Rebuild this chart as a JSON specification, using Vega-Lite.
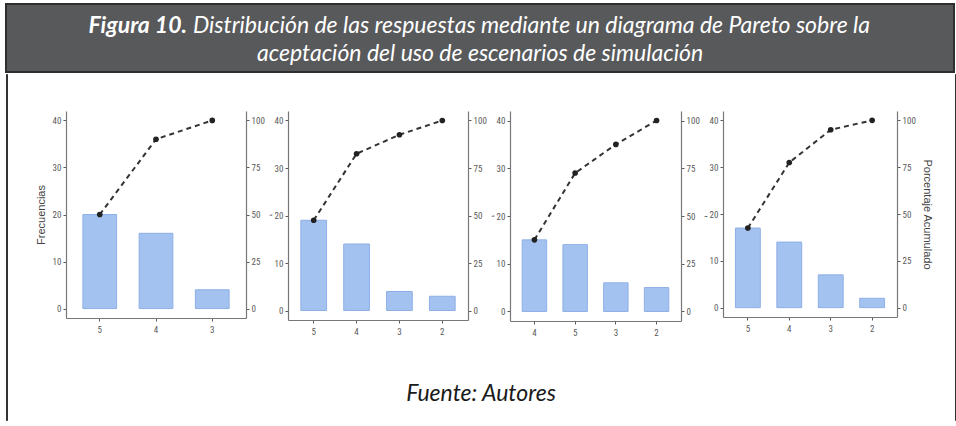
{
  "$schema": "https://vega.github.io/schema/vega-lite/v6.json",
  "background": "white",
  "padding": {"left": 5, "top": 3, "right": 0, "bottom": 0},
  "spacing": 0,
  "config": {
    "view": {"stroke": null},
    "axis": {
      "grid": false,
      "labelFont": "Liberation Sans Narrow, Roboto Condensed, DejaVu Sans Condensed, Roboto",
      "labelFontSize": 9,
      "labelColor": "#5a5a5a",
      "tickColor": "#5a5a5a",
      "tickSize": 3,
      "labelPadding": 2,
      "domainColor": "#777777",
      "domainWidth": 1.2,
      "titleFont": "Liberation Sans",
      "titleFontSize": 11,
      "titleFontWeight": "normal",
      "titleColor": "#444444"
    }
  },
  "datasets": {
    "p1": [
      {"resp": "5", "freq": 20, "cum": 50},
      {"resp": "4", "freq": 16, "cum": 90},
      {"resp": "3", "freq": 4, "cum": 100}
    ],
    "p2": [
      {"resp": "5", "freq": 19, "cum": 47.5},
      {"resp": "4", "freq": 14, "cum": 82.5},
      {"resp": "3", "freq": 4, "cum": 92.5},
      {"resp": "2", "freq": 3, "cum": 100}
    ],
    "p3": [
      {"resp": "4", "freq": 15, "cum": 37.5},
      {"resp": "5", "freq": 14, "cum": 72.5},
      {"resp": "3", "freq": 6, "cum": 87.5},
      {"resp": "2", "freq": 5, "cum": 100}
    ],
    "p4": [
      {"resp": "5", "freq": 17, "cum": 42.5},
      {"resp": "4", "freq": 14, "cum": 77.5},
      {"resp": "3", "freq": 7, "cum": 95},
      {"resp": "2", "freq": 2, "cum": 100}
    ]
  },
  "vconcat": [
    {
      "width": 948,
      "height": 68,
      "view": {"fill": "#58595b", "stroke": "#2f2f2f", "strokeWidth": 2},
      "encoding": {
        "y": {"field": "line", "type": "ordinal", "scale": {"type": "point", "domain": [1, 2], "padding": 0.69, "align": 0.725}, "axis": null},
        "text": {"field": "t"}
      },
      "layer": [
        {
          "data": {"values": [{"line": 1, "t": "Figura 10."}]},
          "mark": {"type": "text", "font": "Lato", "fontSize": 23, "fontStyle": "italic", "fontWeight": "bold", "color": "white", "align": "right", "baseline": "alphabetic", "dx": -293}
        },
        {
          "data": {"values": [{"line": 1, "t": "Distribución de las respuestas mediante un diagrama de Pareto sobre la"}]},
          "mark": {"type": "text", "font": "Lato", "fontSize": 23, "fontStyle": "italic", "fontWeight": "normal", "color": "white", "align": "left", "baseline": "alphabetic", "dx": -287}
        },
        {
          "data": {"values": [{"line": 2, "t": "aceptación del uso de escenarios de simulación"}]},
          "mark": {"type": "text", "font": "Lato", "fontSize": 23, "fontStyle": "italic", "fontWeight": "normal", "color": "white", "align": "center", "baseline": "alphabetic"}
        }
      ]
    },
    {
      "spacing": 0,
      "hconcat": [
        {
          "width": 1,
          "height": 346,
          "view": {"fill": "#333333", "stroke": "#333333", "strokeWidth": 1},
          "data": {"values": [{}]},
          "mark": {"type": "text"},
          "encoding": {}
        },
        {
          "spacing": 0,
          "vconcat": [
            {
              "width": 946,
              "height": 36,
              "data": {"values": [{}]},
              "mark": {"type": "text"},
              "encoding": {}
            },
            {
              "spacing": 0,
              "hconcat": [
                {
                  "width": 27,
                  "height": 10,
                  "data": {"values": [{}]},
                  "mark": {"type": "text"},
                  "encoding": {}
                },
                {
                  "hconcat": [
                    {
                      "width": 180,
                      "height": 207,
                      "data": {"name": "p1"},
                      "encoding": {"x": {"field": "resp", "type": "nominal", "sort": null, "scale": {"paddingInner": 0.4, "paddingOuter": 0.3}, "axis": {"title": null, "labelAngle": 0, "labelPadding": 4}}},
                      "layer": [
                        {
                          "mark": {"type": "bar", "color": "#a4c2f0", "stroke": "#8eafe6", "strokeWidth": 1},
                          "encoding": {"y": {"field": "freq", "type": "quantitative", "scale": {"domain": [-2, 42], "nice": false, "zero": false}, "axis": {"orient": "left", "values": [0, 10, 20, 30, 40], "title": "Frecuencias", "titlePadding": 6}}}
                        },
                        {
                          "encoding": {
                            "y": {"field": "cum", "type": "quantitative", "scale": {"domain": [-5, 105], "nice": false, "zero": false}, "axis": {"orient": "right", "values": [0, 25, 50, 75, 100], "title": ",", "titlePadding": 4}},
                            "order": {"field": "cum", "type": "quantitative"}
                          },
                          "layer": [
                            {"mark": {"type": "line", "color": "#333333", "strokeDash": [5, 4], "strokeWidth": 2}},
                            {"mark": {"type": "point", "filled": true, "color": "#222222", "size": 32, "opacity": 1}}
                          ]
                        }
                      ],
                      "resolve": {"scale": {"y": "independent"}}
                    },
                    {
                      "width": 180,
                      "height": 209,
                      "data": {"name": "p2"},
                      "encoding": {"x": {"field": "resp", "type": "nominal", "sort": null, "scale": {"paddingInner": 0.4, "paddingOuter": 0.3}, "axis": {"title": null, "labelAngle": 0, "labelPadding": 4}}},
                      "layer": [
                        {
                          "mark": {"type": "bar", "color": "#a4c2f0", "stroke": "#8eafe6", "strokeWidth": 1},
                          "encoding": {"y": {"field": "freq", "type": "quantitative", "scale": {"domain": [-2, 42], "nice": false, "zero": false}, "axis": {"orient": "left", "values": [0, 10, 20, 30, 40], "title": null}}}
                        },
                        {
                          "encoding": {
                            "y": {"field": "cum", "type": "quantitative", "scale": {"domain": [-5, 105], "nice": false, "zero": false}, "axis": {"orient": "right", "values": [0, 25, 50, 75, 100], "title": ",", "titlePadding": 4}},
                            "order": {"field": "cum", "type": "quantitative"}
                          },
                          "layer": [
                            {"mark": {"type": "line", "color": "#333333", "strokeDash": [5, 4], "strokeWidth": 2}},
                            {"mark": {"type": "point", "filled": true, "color": "#222222", "size": 32, "opacity": 1}}
                          ]
                        }
                      ],
                      "resolve": {"scale": {"y": "independent"}}
                    },
                    {
                      "width": 171,
                      "height": 210,
                      "data": {"name": "p3"},
                      "encoding": {"x": {"field": "resp", "type": "nominal", "sort": null, "scale": {"paddingInner": 0.4, "paddingOuter": 0.3}, "axis": {"title": null, "labelAngle": 0, "labelPadding": 4}}},
                      "layer": [
                        {
                          "mark": {"type": "bar", "color": "#a4c2f0", "stroke": "#8eafe6", "strokeWidth": 1},
                          "encoding": {"y": {"field": "freq", "type": "quantitative", "scale": {"domain": [-2, 42], "nice": false, "zero": false}, "axis": {"orient": "left", "values": [0, 10, 20, 30, 40], "title": null}}}
                        },
                        {
                          "encoding": {
                            "y": {"field": "cum", "type": "quantitative", "scale": {"domain": [-5, 105], "nice": false, "zero": false}, "axis": {"orient": "right", "values": [0, 25, 50, 75, 100], "title": ",", "titlePadding": 4}},
                            "order": {"field": "cum", "type": "quantitative"}
                          },
                          "layer": [
                            {"mark": {"type": "line", "color": "#333333", "strokeDash": [5, 4], "strokeWidth": 2}},
                            {"mark": {"type": "point", "filled": true, "color": "#222222", "size": 32, "opacity": 1}}
                          ]
                        }
                      ],
                      "resolve": {"scale": {"y": "independent"}}
                    },
                    {
                      "width": 174,
                      "height": 206,
                      "data": {"name": "p4"},
                      "encoding": {"x": {"field": "resp", "type": "nominal", "sort": null, "scale": {"paddingInner": 0.4, "paddingOuter": 0.3}, "axis": {"title": null, "labelAngle": 0, "labelPadding": 4}}},
                      "layer": [
                        {
                          "mark": {"type": "bar", "color": "#a4c2f0", "stroke": "#8eafe6", "strokeWidth": 1},
                          "encoding": {"y": {"field": "freq", "type": "quantitative", "scale": {"domain": [-2, 42], "nice": false, "zero": false}, "axis": {"orient": "left", "values": [0, 10, 20, 30, 40], "title": null}}}
                        },
                        {
                          "encoding": {
                            "y": {"field": "cum", "type": "quantitative", "scale": {"domain": [-5, 105], "nice": false, "zero": false}, "axis": {"orient": "right", "values": [0, 25, 50, 75, 100], "title": "Porcentaje Acumulado", "titlePadding": 6}},
                            "order": {"field": "cum", "type": "quantitative"}
                          },
                          "layer": [
                            {"mark": {"type": "line", "color": "#333333", "strokeDash": [5, 4], "strokeWidth": 2}},
                            {"mark": {"type": "point", "filled": true, "color": "#222222", "size": 32, "opacity": 1}}
                          ]
                        }
                      ],
                      "resolve": {"scale": {"y": "independent"}}
                    }
                  ],
                  "spacing": 42,
                  "bounds": "flush"
                }
              ]
            },
            {
              "width": 946,
              "height": 84,
              "title": {"text": "Fuente: Autores", "orient": "bottom", "offset": -38, "anchor": "middle", "font": "Lato", "fontSize": 23, "fontStyle": "italic", "fontWeight": "normal", "color": "#1a1a1a"},
              "data": {"values": [{}]},
              "mark": {"type": "text"},
              "encoding": {}
            }
          ]
        },
        {
          "width": 1,
          "height": 346,
          "view": {"fill": "#333333", "stroke": "#333333", "strokeWidth": 1},
          "data": {"values": [{}]},
          "mark": {"type": "text"},
          "encoding": {}
        }
      ]
    },
    {
      "width": 948,
      "height": 1,
      "view": {"fill": "#333333", "stroke": "#333333", "strokeWidth": 1},
      "data": {"values": [{}]},
      "mark": {"type": "text"},
      "encoding": {}
    }
  ]
}
